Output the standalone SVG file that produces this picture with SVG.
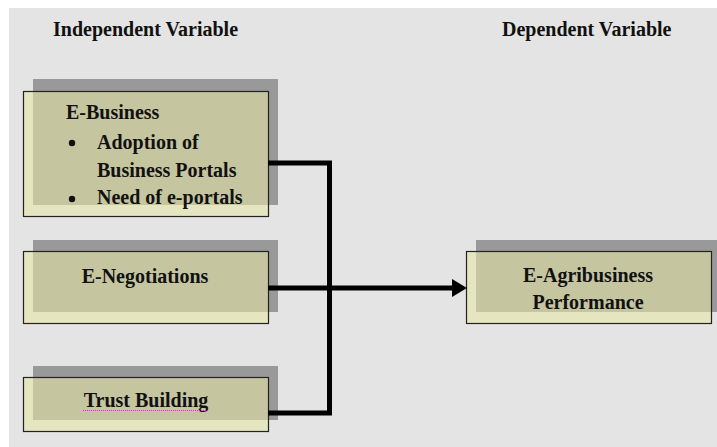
<svg xmlns="http://www.w3.org/2000/svg" width="717" height="447" viewBox="0 0 717 447">
  <style>
    .t { font-family: "Liberation Serif", "DejaVu Serif", serif; font-weight: bold; font-size: 20px; fill: #111; }
    .c { text-anchor: middle; }
    .shadow { fill: #999999; }
    .box { fill: rgb(230,230,166); fill-opacity: 0.57; stroke: #222; stroke-width: 1.2; }
    .wire { fill: none; stroke: #000; stroke-width: 5; stroke-linejoin: miter; }
  </style>
  <defs>
    <marker id="arrow" markerUnits="userSpaceOnUse" markerWidth="16" markerHeight="18" refX="1" refY="9" orient="auto">
      <path d="M0,0 L15,9 L0,18 Z" fill="#000"/>
    </marker>
  </defs>
  <rect x="0" y="0" width="717" height="447" fill="#ffffff"/>
  <rect x="9" y="8" width="708" height="439" fill="#e4e4e4"/>

  <g id="header-independent">
    <text class="t" x="53" y="36">Independent Variable</text>
  </g>
  <g id="header-dependent">
    <text class="t" x="502" y="36">Dependent Variable</text>
  </g>

  <g id="node-ebusiness">
    <rect class="shadow" x="33" y="79" width="245" height="126"/>
    <rect class="box" x="23.5" y="91.5" width="245" height="125"/>
    <text class="t" x="66" y="119">E-Business</text>
    <circle cx="72" cy="143" r="3.2" fill="#111"/>
    <text class="t" x="97" y="149">Adoption of</text>
    <text class="t" x="97" y="177">Business Portals</text>
    <circle cx="72" cy="199" r="3.2" fill="#111"/>
    <text class="t" x="97" y="204">Need of e-portals</text>
  </g>

  <g id="node-enegotiations">
    <rect class="shadow" x="33" y="240" width="245" height="72"/>
    <rect class="box" x="23.5" y="251.5" width="245" height="72"/>
    <text class="t c" x="145" y="283">E-Negotiations</text>
  </g>

  <g id="node-trust">
    <rect class="shadow" x="33" y="366" width="245" height="54"/>
    <rect class="box" x="23.5" y="377.5" width="245" height="54"/>
    <text class="t c" x="146" y="407">Trust Building</text>
    <line x1="83" y1="410.5" x2="209" y2="410.5" stroke="#cc33cc" stroke-width="1" stroke-dasharray="1,1"/>
  </g>

  <g id="node-performance">
    <rect class="shadow" x="476" y="240" width="246" height="72"/>
    <rect class="box" x="466.5" y="251.5" width="245" height="72"/>
    <text class="t c" x="588" y="282">E-Agribusiness</text>
    <text class="t c" x="588" y="309">Performance</text>
  </g>

  <g id="connectors">
    <path class="wire" d="M268,163 H329.5 V413 H268"/>
    <path class="wire" d="M268,288 H453" marker-end="url(#arrow)"/>
  </g>
</svg>
